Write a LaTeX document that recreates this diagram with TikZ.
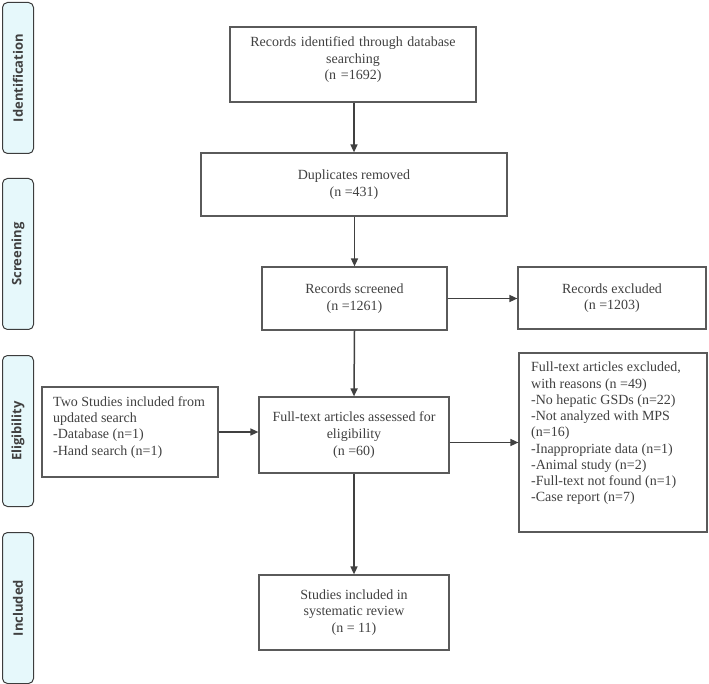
\documentclass[tikz,border=0pt]{standalone}
\usepackage{fontspec}
\setmainfont{Liberation Serif}
\newfontfamily\labfont{Open Sans}
\usetikzlibrary{arrows.meta}
\definecolor{txt}{RGB}{64,64,64}
\definecolor{bord}{RGB}{90,90,90}
\definecolor{labfill}{RGB}{230,248,251}
\definecolor{labbord}{RGB}{60,60,60}
\tikzset{
  stage/.style={draw=labbord, fill=labfill, line width=1pt, rounded corners=5pt,
    minimum width=31pt, minimum height=151pt, inner sep=0pt, anchor=north west},
  stagetext/.style={rotate=90, text=txt, inner sep=0pt,
    font=\labfont\bfseries\fontsize{13}{15}\selectfont},
  box/.style={draw=bord, line width=1.2pt, inner sep=0pt, text=txt,
    font=\fontsize{14}{16.6}\selectfont, align=center},
  freetext/.style={text=txt, align=left, anchor=north west, inner sep=0pt},
  arr/.style={draw=txt, line width=1.5pt, -{Triangle[length=8pt,width=7pt]}},
}
\begin{document}
\begin{tikzpicture}[x=1pt,y=-1pt]
\useasboundingbox (0,0) rectangle (709,684);
% stage labels
\node[stage] (sid) at (2,2) {};
\node[stagetext] (tid) at (sid.center) {Identification};
\node[stage] (ssc) at (2,178) {};
\node[stagetext] (tsc) at (ssc.center) {Screening};
\node[stage] (sel) at (2,355) {};
\node[stagetext] (tel) at (sel.center) {Eligibility};
\node[stage] (sin) at (2,532) {};
\node[stagetext] (tin) at (sin.center) {Included};
% boxes
\node[box, minimum width=246pt, minimum height=75pt] (id) at (353,64.5) {};
\node[box, draw=none, text width=236pt, anchor=north] (idt) at (353,36) {Records identified through database\\searching\\(n =1692)};
\node[box, minimum width=306pt, minimum height=63pt] (dup) at (354,184.5) {Duplicates removed\\(n =431)};
\node[box, minimum width=185pt, minimum height=63pt] (scr) at (354.5,298.5) {Records screened\\(n =1261)};
\node[box, minimum width=188pt, minimum height=62pt] (exc) at (612,298) {Records excluded\\(n =1203)};
\node[box, minimum width=176pt, minimum height=90pt] (two) at (130,432) {};
\node[freetext, font=\fontsize{14}{16.4}\selectfont] (twot) at (53,396) {Two Studies included from\\updated search\\-Database (n=1)\\-Hand search (n=1)};
\node[box, minimum width=190pt, minimum height=76pt] (ass) at (354,435) {Full-text articles assessed for\\eligibility\\(n =60)};
\node[box, minimum width=188pt, minimum height=179pt] (ftx) at (613,442.5) {};
\node[freetext, font=\fontsize{14}{16.25}\selectfont] (ftxt) at (531,362) {Full-text articles excluded,\\with reasons (n =49)\\-No hepatic GSDs (n=22)\\-Not analyzed with MPS\\(n=16)\\-Inappropriate data (n=1)\\-Animal study (n=2)\\-Full-text not found (n=1)\\-Case report (n=7)};
\node[box, minimum width=190pt, minimum height=75pt] (inc) at (354,612.5) {Studies included in\\systematic review\\(n = 11)};
% arrows
\draw[arr] (id.south -| dup.north) -- (dup.north);
\draw[arr] (dup.south -| scr.north) -- (scr.north);
\draw[arr] (scr.east) -- (scr.east -| exc.west);
\draw[arr] (scr.south) -- (ass.north);
\draw[arr] (two.east) -- (two.east -| ass.west);
\draw[arr] (ass.east |- ftx.west) -- (ftx.west);
\draw[arr] (ass.south) -- (inc.north);
\end{tikzpicture}
\end{document}
